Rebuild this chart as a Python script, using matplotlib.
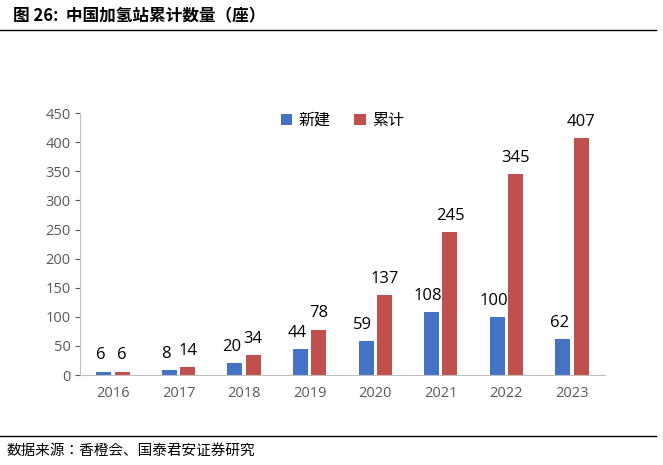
import matplotlib
matplotlib.use("Agg")
import matplotlib.pyplot as plt
from matplotlib import font_manager
import numpy as np

cjk = "Noto Sans CJK SC"
names = sorted({f.name for f in font_manager.fontManager.ttflist})
sans_cjk = [n for n in names if "Sans CJK" in n]
if sans_cjk:
    cjk = next((n for n in sans_cjk if "SC" in n), sans_cjk[0])
plt.rcParams["font.family"] = "sans-serif"
plt.rcParams["font.sans-serif"] = ["Open Sans", "DejaVu Sans"]

years = ["2016", "2017", "2018", "2019", "2020", "2021", "2022", "2023"]
new_built = [6, 8, 20, 44, 59, 108, 100, 62]
cumulative = [6, 14, 34, 78, 137, 245, 345, 407]

fig = plt.figure(figsize=(6.63, 4.65), dpi=100)
fig.text(0.02, 0.965, "图 26:  中国加氢站累计数量（座）", fontsize=12, fontweight="bold", va="center", family=cjk)
fig.add_artist(plt.Line2D([0.0, 0.99], [0.935, 0.935], color="black", lw=1))
fig.add_artist(plt.Line2D([0.0, 0.99], [0.062, 0.062], color="black", lw=1))
fig.text(0.01, 0.03, "数据来源：香橙会、国泰君安证券研究", fontsize=10.5, va="center", family=cjk)

ax = fig.add_axes([0.121, 0.1935, 0.791, 0.563])
x = np.arange(len(years))
w = 0.23
b1 = ax.bar(x - 0.14, new_built, w, color="#4472C4", label="新建")
b2 = ax.bar(x + 0.14, cumulative, w, color="#C0504D", label="累计")
for rect, v in zip(b1, new_built):
    ax.text(rect.get_x() + rect.get_width() / 2 - 0.05, v + 14, str(v), ha="center", va="bottom", fontsize=12)
for rect, v in zip(b2, cumulative):
    ax.text(rect.get_x() + rect.get_width() / 2, v + 14, str(v), ha="center", va="bottom", fontsize=12)
ax.set_ylim(0, 450)
ax.set_yticks(range(0, 451, 50))
ax.set_xlim(-0.5, len(years) - 0.5)
ax.set_xticks(x)
ax.set_xticklabels(years)
ax.tick_params(colors="#595959", labelsize=10.5)
ax.tick_params(axis="x", length=0, pad=8)
for s in ["top", "right"]:
    ax.spines[s].set_visible(False)
ax.spines["left"].set_color("#BFBFBF")
ax.spines["bottom"].set_color("#BFBFBF")
ax.legend(loc="upper center", bbox_to_anchor=(0.5, 1.06), ncol=2, frameon=False,
          prop={"family": cjk, "size": 11.5},
          handlelength=0.7, handleheight=0.7, columnspacing=1.5, handletextpad=0.4)
fig.savefig("out.png", dpi=100)
